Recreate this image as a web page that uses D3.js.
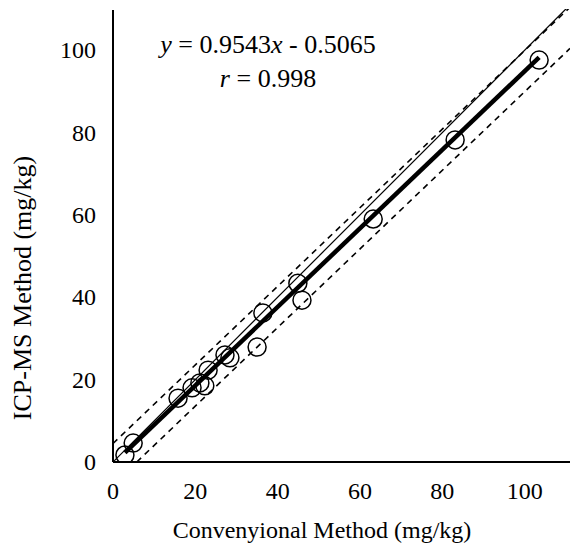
<!DOCTYPE html>
<html>
<head>
<meta charset="utf-8">
<script src="https://cdn.jsdelivr.net/npm/d3@7"></script>
<style>
  body { margin: 0; background: #fff; }
</style>
</head>
<body>
<script>
const width = 570,
      height = 552

// measured values (conventional vs ICP-MS), mg/kg
const conventional = [103.5, 83.1, 63.2, 44.9, 45.9, 36.4, 35.0, 27.2, 28.4, 23.1, 21.1, 19.2, 22.3, 15.8, 4.9, 2.9]
const icpms        = [ 97.6, 78.2, 59.0, 43.4, 39.3, 36.2, 27.9, 26.0, 25.3, 22.3, 19.2, 18.0, 18.5, 15.5, 4.6, 1.7]
const xTicks = [0, 20, 40, 60, 80, 100]
const yTicks = [0, 20, 40, 60, 80, 100]
const slope = 0.9543, intercept = -0.5065, r = 0.998
const band = 5   // half width of dashed band

const serif = '"Liberation Serif", "Times New Roman", Times, serif'
const fs = '24px'

const points = conventional.map((d, i) => ({ x: d, y: icpms[i] }))

const xMax = 111, yMax = 110
const x = d3.scaleLinear().domain([0, xMax]).range([113, 570])
const y = d3.scaleLinear().domain([0, yMax]).range([462, 9])

const svg = d3.select('body').append('svg')
    .attr('width', width)
    .attr('height', height)
    .attr('font-family', serif)

svg.append('clipPath').attr('id', 'plot')
  .append('rect')
    .attr('x', x(0)).attr('y', y(yMax))
    .attr('width', x(xMax) - x(0)).attr('height', y(0) - y(yMax))

const plot = svg.append('g').attr('clip-path', 'url(#plot)')

const line = d3.line().x(d => x(d[0])).y(d => y(d[1]))
const xmin = d3.min(conventional), xmax = d3.max(conventional)

// 1:1 line
plot.append('path')
    .attr('d', line([[0, 0], [xMax, xMax]]))
    .attr('stroke', '#000').attr('stroke-width', 1.2).attr('fill', 'none')

// dashed band lines
;[band, -band].forEach(off => {
    const x0 = off > 0 ? 0 : (0 - intercept - off) / slope
    plot.append('path')
        .attr('d', line([[x0, slope * x0 + intercept + off], [xMax, slope * xMax + intercept + off]]))
        .attr('stroke', '#000').attr('stroke-width', 1.6)
        .attr('stroke-dasharray', '6,5').attr('fill', 'none')
})

// regression line
plot.append('path')
    .attr('d', line([[xmin, slope * xmin + intercept], [xmax, slope * xmax + intercept]]))
    .attr('stroke', '#000').attr('stroke-width', 4.5).attr('fill', 'none')

// points
plot.selectAll('circle')
    .data(points)
    .enter()
    .append('circle')
        .attr('cx', d => x(d.x))
        .attr('cy', d => y(d.y))
        .attr('r', 9)
        .attr('fill', 'none')
        .attr('stroke', '#000')
        .attr('stroke-width', 1.5)

// axes lines
svg.append('line')
    .attr('x1', x(0)).attr('x2', x(0))
    .attr('y1', y(0)).attr('y2', 10)
    .attr('stroke', '#000').attr('stroke-width', 2)
svg.append('line')
    .attr('x1', x(0)).attr('x2', x(xMax))
    .attr('y1', y(0)).attr('y2', y(0))
    .attr('stroke', '#000').attr('stroke-width', 2)

// tick labels
svg.selectAll('.xt')
    .data(xTicks)
    .enter()
    .append('text')
        .attr('class', 'xt')
        .attr('x', d => x(d))
        .attr('y', 499)
        .attr('text-anchor', 'middle')
        .attr('font-size', fs)
        .text(d => d)

svg.selectAll('.yt')
    .data(yTicks)
    .enter()
    .append('text')
        .attr('class', 'yt')
        .attr('x', 96)
        .attr('y', d => y(d) + 8)
        .attr('text-anchor', 'end')
        .attr('font-size', fs)
        .text(d => d)

// axis titles
svg.append('text')
    .attr('x', 322)
    .attr('y', 538)
    .attr('text-anchor', 'middle')
    .attr('font-size', fs)
    .text('Convenyional Method (mg/kg)')

svg.append('text')
    .attr('transform', 'translate(31,288) rotate(-90)')
    .attr('text-anchor', 'middle')
    .attr('font-size', '26px')
    .text('ICP-MS Method (mg/kg)')

// equation
const eq = svg.append('text')
    .attr('x', 268)
    .attr('y', 53)
    .attr('text-anchor', 'middle')
    .attr('font-size', '26px')
eq.append('tspan').attr('font-style', 'italic').text('y')
eq.append('tspan').text(' = ' + slope)
eq.append('tspan').attr('font-style', 'italic').text('x')
eq.append('tspan').text(' - ' + Math.abs(intercept).toFixed(4))

const rt = svg.append('text')
    .attr('x', 268)
    .attr('y', 87)
    .attr('text-anchor', 'middle')
    .attr('font-size', '26px')
rt.append('tspan').attr('font-style', 'italic').text('r')
rt.append('tspan').text(' = ' + r)
</script>
</body>
</html>
